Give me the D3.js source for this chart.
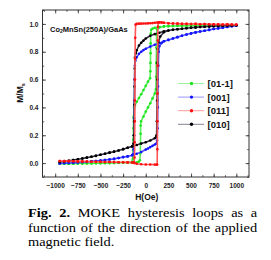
<!DOCTYPE html>
<html>
<head>
<meta charset="utf-8">
<script src="https://cdn.jsdelivr.net/npm/d3@7"></script>
<style>
	body { margin:0; background:#fff; }
	#wrap { position:relative; width:271px; height:260px; overflow:hidden; background:#fff; }
	svg { position:absolute; left:0; top:0; }
	.cap { position:absolute; left:28px; width:191px; font-family:"Liberation Serif","DejaVu Serif",serif; font-size:12px; line-height:14px; color:#000; transform:scaleX(1.2); transform-origin:0 0; }
	.just { text-align:justify; text-align-last:justify; }
</style>
</head>
<body>
<div id="wrap">
	<svg id="chart" width="271" height="205"></svg>
	<div class="cap just" style="top:206px"><b>Fig. 2.</b> MOKE hysteresis loops as a</div>
	<div class="cap just" style="top:221px">function of the direction of the applied</div>
	<div class="cap" style="top:235px">magnetic field.</div>
</div>
<script>
// H(Oe), M/Ms; each loop = field going down, then field going up
const xTicks = [-1000, -750, -500, -250, 0, 250, 500, 750, 1000];
const yTicks = [0.0, 0.2, 0.4, 0.6, 0.8, 1.0];
const seriesNames = ['[01-1]', '[001]', '[011]', '[010]'];

const green_down = [[1000,0.99],[950,0.99],[900,0.989],[850,0.99],[800,0.989],[750,0.99],[700,0.988],[650,0.989],[600,0.988],[550,0.988],[500,0.987],[450,0.987],[400,0.986],[350,0.986],[300,0.985],[250,0.984],[200,0.982],[150,0.978],[100,0.972],[75,0.966],[60,0.958],[55,0.93],[54,0.86],[53,0.79],[52,0.72],[51,0.66],[48,0.61],[25,0.585],[0,0.555],[-25,0.525],[-50,0.495],[-75,0.468],[-100,0.44],[-120,0.415],[-130,0.4],[-134,0.33],[-136,0.25],[-138,0.17],[-140,0.09],[-143,0.03],[-150,0.01],[-200,0.004],[-250,0.003],[-300,0.002],[-350,0.001],[-400,0.0],[-450,0.0],[-500,-0.001],[-550,-0.001],[-600,-0.002],[-650,-0.002],[-700,-0.003],[-750,-0.003],[-800,-0.004],[-850,-0.004],[-900,-0.005],[-950,-0.005]];
const green_up = [[-950,-0.005],[-900,-0.005],[-850,-0.004],[-800,-0.004],[-750,-0.003],[-700,-0.003],[-650,-0.002],[-600,-0.002],[-550,-0.001],[-500,-0.001],[-450,0.0],[-400,0.0],[-350,0.001],[-300,0.002],[-250,0.003],[-200,0.003],[-150,0.003],[-100,0.005],[-80,0.008],[-65,0.02],[-60,0.07],[-58,0.14],[-57,0.21],[-56,0.27],[-52,0.3],[-25,0.335],[0,0.37],[25,0.4],[50,0.43],[75,0.465],[100,0.5],[112,0.53],[114,0.62],[116,0.72],[118,0.83],[120,0.92],[125,0.962],[150,0.975],[200,0.982],[250,0.984],[300,0.985],[350,0.986],[400,0.986],[450,0.987],[500,0.987],[550,0.988],[600,0.988],[650,0.989],[700,0.988],[750,0.99],[800,0.989],[850,0.99],[900,0.989],[950,0.99],[1000,0.99]];

const blue_down = [[1000,0.988],[950,0.983],[900,0.978],[850,0.973],[800,0.968],[750,0.963],[700,0.957],[650,0.951],[600,0.945],[550,0.939],[500,0.932],[450,0.924],[400,0.915],[350,0.905],[300,0.895],[250,0.885],[200,0.875],[150,0.862],[100,0.85],[50,0.837],[0,0.822],[-25,0.812],[-50,0.8],[-75,0.785],[-100,0.76],[-115,0.735],[-120,0.7],[-123,0.6],[-126,0.45],[-128,0.32],[-130,0.2],[-133,0.1],[-140,0.062],[-150,0.057],[-200,0.048],[-250,0.043],[-300,0.036],[-350,0.03],[-400,0.026],[-450,0.022],[-500,0.018],[-550,0.015],[-600,0.012],[-650,0.009],[-700,0.007],[-750,0.005],[-800,0.003],[-850,0.001],[-900,0.0],[-950,-0.003]];
const blue_up = [[-950,-0.003],[-900,0.0],[-850,0.001],[-800,0.003],[-750,0.005],[-700,0.007],[-650,0.009],[-600,0.012],[-550,0.015],[-500,0.018],[-450,0.022],[-400,0.026],[-350,0.03],[-300,0.036],[-250,0.043],[-200,0.048],[-150,0.057],[-100,0.067],[-50,0.08],[0,0.097],[25,0.105],[50,0.115],[75,0.124],[100,0.133],[118,0.14],[125,0.16],[130,0.25],[133,0.4],[136,0.55],[139,0.7],[143,0.8],[150,0.84],[175,0.862],[200,0.875],[250,0.885],[300,0.895],[350,0.905],[400,0.915],[450,0.924],[500,0.932],[550,0.939],[600,0.945],[650,0.951],[700,0.957],[750,0.963],[800,0.968],[850,0.973],[900,0.978],[950,0.983],[1000,0.988]];

const black_down = [[1000,0.99],[950,0.989],[900,0.988],[850,0.987],[800,0.985],[750,0.984],[700,0.982],[650,0.98],[600,0.978],[550,0.975],[500,0.972],[450,0.969],[400,0.965],[350,0.962],[300,0.958],[250,0.953],[200,0.947],[150,0.937],[100,0.927],[50,0.915],[0,0.895],[-25,0.88],[-50,0.865],[-75,0.845],[-100,0.81],[-110,0.79],[-118,0.76],[-122,0.68],[-124,0.55],[-126,0.42],[-128,0.3],[-131,0.2],[-135,0.14],[-150,0.12],[-200,0.11],[-250,0.1],[-300,0.09],[-350,0.082],[-400,0.075],[-450,0.067],[-500,0.06],[-550,0.052],[-600,0.045],[-650,0.039],[-700,0.033],[-750,0.027],[-800,0.022],[-850,0.017],[-900,0.012],[-950,0.008]];
const black_up = [[-950,0.008],[-900,0.012],[-850,0.017],[-800,0.022],[-750,0.027],[-700,0.033],[-650,0.039],[-600,0.045],[-550,0.052],[-500,0.06],[-450,0.067],[-400,0.075],[-350,0.082],[-300,0.09],[-250,0.1],[-200,0.11],[-150,0.12],[-100,0.13],[-50,0.14],[0,0.15],[50,0.162],[100,0.178],[115,0.19],[120,0.2],[123,0.3],[125,0.45],[127,0.6],[129,0.72],[132,0.82],[140,0.87],[160,0.91],[200,0.94],[250,0.953],[300,0.958],[350,0.962],[400,0.965],[450,0.969],[500,0.972],[550,0.975],[600,0.978],[650,0.98],[700,0.982],[750,0.984],[800,0.985],[850,0.987],[900,0.988],[950,0.989],[1000,0.99]];

const red_down = [[1000,0.995],[950,0.996],[900,0.997],[850,0.996],[800,0.998],[750,0.997],[700,0.998],[650,0.999],[600,0.998],[550,1.0],[500,0.999],[450,1.0],[400,1.0],[350,1.002],[300,1.003],[250,1.005],[200,1.008],[175,1.01],[150,1.012],[125,1.01],[100,1.008],[75,1.006],[50,1.005],[25,1.004],[0,1.003],[-25,1.003],[-50,1.002],[-75,1.002],[-100,1.0],[-112,0.995],[-116,0.9],[-118,0.75],[-119,0.6],[-120,0.45],[-121,0.3],[-122,0.15],[-124,0.04],[-130,0.006],[-150,0.004],[-200,0.005],[-250,0.006],[-300,0.006],[-350,0.007],[-400,0.008],[-450,0.008],[-500,0.009],[-550,0.01],[-600,0.01],[-650,0.011],[-700,0.012],[-750,0.012],[-800,0.013],[-850,0.014],[-900,0.014],[-950,0.015]];
const red_up = [[-950,0.015],[-900,0.014],[-850,0.014],[-800,0.013],[-750,0.012],[-700,0.012],[-650,0.011],[-600,0.01],[-550,0.01],[-500,0.009],[-450,0.008],[-400,0.008],[-350,0.007],[-300,0.006],[-250,0.006],[-200,0.005],[-150,0.004],[-125,0.0],[-100,-0.005],[-50,-0.008],[0,-0.01],[50,-0.01],[100,-0.011],[120,-0.012],[126,-0.01],[128,0.1],[129,0.3],[130,0.5],[131,0.7],[132,0.88],[134,0.98],[140,1.008],[150,1.012],[175,1.01],[200,1.008],[250,1.005],[300,1.003],[350,1.002],[400,1.0],[450,1.0],[500,0.999],[550,1.0],[600,0.998],[650,0.999],[700,0.998],[750,0.997],[800,0.998],[850,0.996],[900,0.997],[950,0.996],[1000,0.995]];

const loops = [
	{name: seriesNames[0], colour: '#1ee61e', lineColour: '#5aee5a', points: green_down.concat(green_up)},
	{name: seriesNames[1], colour: '#1414ff', lineColour: '#4f4fff', points: blue_down.concat(blue_up)},
	{name: seriesNames[3], colour: '#000000', lineColour: '#3c3046', points: black_down.concat(black_up)},
	{name: seriesNames[2], colour: '#ff1010', lineColour: '#ff5656', points: red_down.concat(red_up)},
];
const legendOrder = [loops[0], loops[1], loops[3], loops[2]];

let svg = d3.select('#chart');
let pLeft = 42.5, pRight = 249, pTop = 10, pBottom = 177;

let x = d3.scaleLinear().domain([-1140, 1140]).range([pLeft, pRight]);
let y = d3.scaleLinear().domain([-0.1, 1.1]).range([pBottom, pTop]);

let xMinor = d3.range(-1125, 1126, 125);
let yMinor = d3.range(-1, 12).map(function(d){ return d / 10; });

function styleAxis(g){
	g.select('.domain').remove();
	g.selectAll('line').attr('stroke', '#333').attr('stroke-width', 0.8);
	g.selectAll('text')
		.attr('font-family', 'Liberation Sans, Arial, sans-serif')
		.attr('font-weight', 'bold')
		.attr('font-size', '6.5px')
		.attr('fill', '#222');
}

// minor ticks, all four sides, inward
svg.append('g').attr('transform', 'translate(0,' + pBottom + ')')
	.call(d3.axisBottom(x).tickValues(xMinor).tickSize(-1.8).tickFormat('')).call(styleAxis);
svg.append('g').attr('transform', 'translate(0,' + pTop + ')')
	.call(d3.axisTop(x).tickValues(xMinor).tickSize(-1.8).tickFormat('')).call(styleAxis);
svg.append('g').attr('transform', 'translate(' + pLeft + ',0)')
	.call(d3.axisLeft(y).tickValues(yMinor).tickSize(-1.8).tickFormat('')).call(styleAxis);
svg.append('g').attr('transform', 'translate(' + pRight + ',0)')
	.call(d3.axisRight(y).tickValues(yMinor).tickSize(-1.8).tickFormat('')).call(styleAxis);

// major ticks
svg.append('g').attr('transform', 'translate(0,' + pBottom + ')')
	.call(d3.axisBottom(x).tickValues(xTicks).tickSize(-3.5).tickPadding(6).tickFormat(d3.format('d'))).call(styleAxis);
svg.append('g').attr('transform', 'translate(0,' + pTop + ')')
	.call(d3.axisTop(x).tickValues(xTicks).tickSize(-3.5).tickFormat('')).call(styleAxis);
svg.append('g').attr('transform', 'translate(' + pLeft + ',0)')
	.call(d3.axisLeft(y).tickValues(yTicks).tickSize(-3.5).tickPadding(4).tickFormat(d3.format('.1f'))).call(styleAxis);
svg.append('g').attr('transform', 'translate(' + pRight + ',0)')
	.call(d3.axisRight(y).tickValues(yTicks).tickSize(-3.5).tickFormat('')).call(styleAxis);

let line = d3.line()
	.x(function(d){ return x(d[0]); })
	.y(function(d){ return y(d[1]); });

let series = svg.selectAll('g.loop')
	.data(loops)
	.enter().append('g')
		.attr('class', 'loop');

series.append('path')
	.attr('d', function(d){ return line(d.points); })
	.attr('fill', 'none')
	.attr('stroke', function(d){ return d.lineColour; })
	.attr('stroke-width', 1.6)
	.attr('stroke-linejoin', 'round');

series.each(function(s){
	d3.select(this).selectAll('circle')
		.data(s.points)
		.enter().append('circle')
			.attr('cx', function(d){ return x(d[0]); })
			.attr('cy', function(d){ return y(d[1]); })
			.attr('r', 1.3)
			.attr('fill', s.colour);
});

// frame
svg.append('rect')
	.attr('x', pLeft).attr('y', pTop)
	.attr('width', pRight - pLeft).attr('height', pBottom - pTop)
	.attr('fill', 'none')
	.attr('stroke', '#333')
	.attr('stroke-width', 1);

// legend
let legend = svg.selectAll('g.legend')
	.data(legendOrder)
	.enter().append('g')
		.attr('class', 'legend')
		.attr('transform', function(d, i){ return 'translate(0,' + (83.5 + i * 13.6) + ')'; });
legend.append('line')
	.attr('x1', 178).attr('x2', 204)
	.attr('stroke', function(d){ return d.lineColour; })
	.attr('stroke-opacity', 0.6)
	.attr('stroke-width', 1);
legend.append('circle')
	.attr('cx', 191.5).attr('r', 1.7)
	.attr('fill', function(d){ return d.colour; });
legend.append('text')
	.attr('x', 207.5).attr('y', 3.4)
	.attr('font-family', 'Liberation Sans, Arial, sans-serif')
	.attr('font-weight', 'bold')
	.attr('font-size', '9.5px')
	.attr('fill', '#111')
	.text(function(d){ return d.name; });

// sample label
let label = svg.append('text')
	.attr('x', 50).attr('y', 31.5)
	.attr('font-family', 'Liberation Sans, Arial, sans-serif')
	.attr('font-weight', 'bold')
	.attr('font-size', '7.5px')
	.attr('fill', '#111');
label.append('tspan').text('Co');
label.append('tspan').attr('font-size', '5px').attr('dy', 1.5).text('2');
label.append('tspan').attr('dy', -1.5).text('MnSn(250A)/GaAs');

// axis titles
svg.append('text')
	.attr('x', (pLeft + pRight) / 2 + 1).attr('y', 200)
	.attr('text-anchor', 'middle')
	.attr('font-family', 'Liberation Sans, Arial, sans-serif')
	.attr('font-weight', 'bold')
	.attr('font-size', '8.5px')
	.attr('fill', '#111')
	.text('H(Oe)');

let yTitle = svg.append('text')
	.attr('transform', 'translate(23,93) rotate(-90)')
	.attr('text-anchor', 'middle')
	.attr('font-family', 'Liberation Sans, Arial, sans-serif')
	.attr('font-weight', 'bold')
	.attr('font-size', '8.5px')
	.attr('fill', '#111');
yTitle.append('tspan').text('M/M');
yTitle.append('tspan').attr('font-size', '5.5px').attr('dy', 1.5).text('s');
</script>
</body>
</html>
